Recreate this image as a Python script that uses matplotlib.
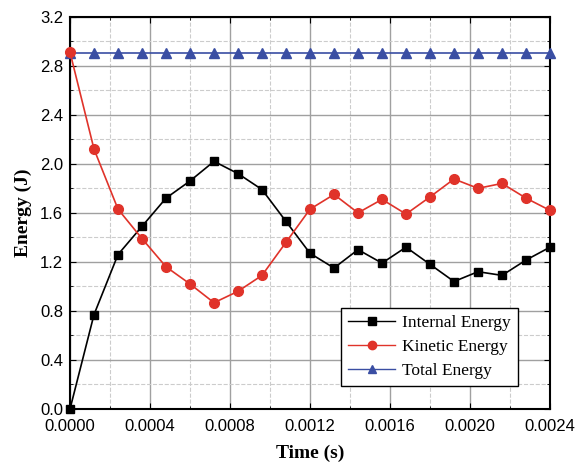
import matplotlib
matplotlib.use('Agg')
import matplotlib.pyplot as plt
from matplotlib.ticker import MultipleLocator, FormatStrFormatter

# time steps (s)
time = [i * 0.00012 for i in range(21)]

internal = [0.0, 0.77, 1.26, 1.49, 1.72, 1.86, 2.02, 1.92, 1.79, 1.53, 1.27,
            1.15, 1.30, 1.19, 1.32, 1.18, 1.04, 1.12, 1.09, 1.215, 1.32]
kinetic = [2.91, 2.12, 1.63, 1.39, 1.16, 1.02, 0.867, 0.96, 1.09, 1.36, 1.63,
           1.75, 1.60, 1.71, 1.59, 1.73, 1.876, 1.80, 1.84, 1.72, 1.62]
total = [2.90] * 21

fig = plt.figure(figsize=(5.8, 4.65), dpi=100)
ax = fig.add_axes([0.1207, 0.1204, 0.8276, 0.8437])

ax.plot(time, internal, color='black', marker='s', markersize=6, linewidth=1.2,
        label='Internal Energy', zorder=3, clip_on=False)
ax.plot(time, kinetic, color='#e0332a', marker='o', markersize=7, linewidth=1.2,
        label='Kinetic Energy', zorder=4, clip_on=False)
ax.plot(time, total, color='#3a4ea3', marker='^', markersize=7, linewidth=1.2,
        label='Total Energy', zorder=3, clip_on=False)

ax.set_xlim(0, 0.0024)
ax.set_ylim(0, 3.2)
ax.xaxis.set_major_locator(MultipleLocator(0.0004))
ax.xaxis.set_minor_locator(MultipleLocator(0.0002))
ax.yaxis.set_major_locator(MultipleLocator(0.4))
ax.yaxis.set_minor_locator(MultipleLocator(0.2))
ax.xaxis.set_major_formatter(FormatStrFormatter('%.4f'))
ax.yaxis.set_major_formatter(FormatStrFormatter('%.1f'))

ax.grid(True, which='major', color='#a0a0a0', linewidth=1.0, linestyle='-')
ax.grid(True, which='minor', color='#cccccc', linewidth=0.8, linestyle='--')
ax.set_axisbelow(True)

for s in ax.spines.values():
    s.set_linewidth(1.5)

ax.tick_params(axis='both', which='both', direction='in', top=True, right=True,
               labelsize=12)
ax.tick_params(axis='both', which='major', length=4)
ax.tick_params(axis='both', which='minor', length=2)
ax.tick_params(axis='x', which='major', pad=7)
ax.tick_params(axis='y', which='major', pad=5)
for lab in ax.get_xticklabels() + ax.get_yticklabels():
    lab.set_family('Liberation Sans')

ax.set_xlabel('Time (s)', family='Liberation Serif', fontweight='bold', fontsize=14,
              labelpad=8)
ax.set_ylabel('Energy (J)', family='Liberation Serif', fontweight='bold', fontsize=14,
              labelpad=6)

leg = ax.legend(loc='lower right', bbox_to_anchor=(0.933, 0.059),
                prop={'family': 'Liberation Serif', 'size': 12.5},
                fancybox=False, edgecolor='black', framealpha=1,
                handlelength=2.7, handletextpad=0.4, borderpad=0.4,
                labelspacing=0.45, borderaxespad=0)
leg.get_frame().set_linewidth(1.0)
for h in leg.legend_handles:
    h.set_markersize(6)
    h.set_linewidth(1.0)

plt.savefig('out.png', dpi=100)
